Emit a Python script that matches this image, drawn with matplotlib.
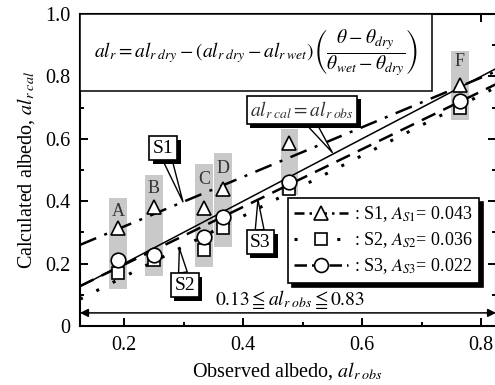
import numpy as np
import matplotlib
matplotlib.use("Agg")
import matplotlib.pyplot as plt
import matplotlib.patheffects as pe
from matplotlib.lines import Line2D
from matplotlib.patches import Rectangle
from matplotlib.ticker import MultipleLocator, FuncFormatter

plt.rcParams['font.family'] = ['Liberation Serif', 'DejaVu Serif']
plt.rcParams['mathtext.fontset'] = 'stix'

# ---- data ----
site_labels = ['A', 'B', 'C', 'D', 'E', 'F']
al_obs = [0.190, 0.250, 0.334, 0.366, 0.478, 0.764]
al_s1 = [0.314, 0.380, 0.378, 0.440, 0.586, 0.772]
al_s2 = [0.170, 0.210, 0.245, 0.314, 0.440, 0.700]
al_s3 = [0.210, 0.228, 0.285, 0.350, 0.462, 0.720]
bar_top = [0.41, 0.484, 0.52, 0.555, 0.63, 0.88]
bar_bottom = [0.12, 0.16, 0.19, 0.253, 0.42, 0.66]
label_y = [0.366, 0.44, 0.468, 0.506, None, 0.847]

# regression lines (end values at the two ends of the axis)
fit_x = [0.126, 0.825]
fit_s1 = [0.26, 0.816]
fit_s2 = [0.086, 0.765]
fit_s3 = [0.128, 0.775]

xmin, xmax = 0.126, 0.825

fig = plt.figure(figsize=(4.95, 3.85), dpi=100)
ax = fig.add_axes([80 / 495, 59 / 385, 416 / 495, 312 / 385])
ax.set_xlim(xmin, xmax)
ax.set_ylim(0, 1.0)

# gray range bars
for x, b, t in zip(al_obs, bar_bottom, bar_top):
    ax.bar(x, t - b, bottom=b, width=0.03, color='#c9c9c9', zorder=1)
for x, ly, lab in zip(al_obs, label_y, site_labels):
    if ly is not None:
        ax.text(x, ly, lab, ha='center', va='center', fontsize=13, color='#333333', zorder=2)

# lines
ax.plot([xmin, xmax], [xmin, xmax], color='k', lw=1.1, zorder=3)
ax.plot(fit_x, fit_s1, color='k', lw=1.8, ls=(0, (7, 3.5, 1.2, 3.5)), zorder=3)
ax.plot(fit_x, fit_s2, color='k', lw=2.2, ls=(0, (1, 5)), zorder=3)
ax.plot(fit_x, fit_s3, color='k', lw=1.8, ls=(0, (6, 3.5)), zorder=3)

# markers
mk = dict(mfc='white', mec='k', mew=1.2, ls='none')
ax.plot(al_obs, al_s2, marker='s', ms=9, zorder=4, **mk)
ax.plot(al_obs, al_s3, marker='o', ms=10.5, zorder=5, **mk)
ax.plot(al_obs, al_s1, marker='^', ms=10.5, zorder=6, **mk)

# equation box
ax.add_patch(Rectangle((0, 0.753), 0.846, 0.247, transform=ax.transAxes,
                       fc='white', ec='k', lw=1.1, zorder=7))
ax.text(0.423, 0.876,
        r'$al_r = al_{r\;dry} - (al_{r\;dry} - al_{r\;wet})'
        r'\left(\dfrac{\theta - \theta_{dry}}{\theta_{wet} - \theta_{dry}}\right)$',
        transform=ax.transAxes, ha='center', va='center', fontsize=14, zorder=8)

# callouts
shadow = [pe.withSimplePatchShadow(offset=(2.5, -2.5), shadow_rgbFace='k', alpha=1)]
callouts = [
    ('S1', (0.299, 0.398), (0.266, 0.569), 'k'),
    ('S2', (0.293, 0.249), (0.302, 0.131), 'k'),
    ('S3', (0.425, 0.405), (0.429, 0.268), 'k'),
    (r'$al_{r\;cal} = al_{r\;obs}$', (0.55, 0.556), (0.499, 0.692), '#333333'),
]
for txt, tip, pos, col in callouts:
    an = ax.annotate(txt, xy=tip, xytext=pos, ha='center', va='center',
                     fontsize=14, color=col, zorder=9,
                     bbox=dict(boxstyle='square,pad=0.18', fc='white', ec='k', lw=1.2),
                     arrowprops=dict(arrowstyle='wedge,tail_width=0.45', fc='white',
                                     ec='k', lw=1.0, shrinkA=0, shrinkB=0))
    an.get_bbox_patch().set_path_effects(shadow)

# range arrow
ax.annotate('', xy=(xmin, 0.042), xytext=(xmax, 0.042),
            arrowprops=dict(arrowstyle='<|-|>', color='k', lw=1.1,
                            shrinkA=0, shrinkB=0, mutation_scale=12), zorder=3)
ax.text(0.479, 0.085, r'$0.13 \leqq al_{r\;obs} \leqq 0.83$', ha='center', va='center',
        fontsize=14, zorder=3)

# legend
handles = [
    Line2D([], [], color='k', lw=1.8, ls=(0, (4, 2, 1, 2)), marker='^', ms=10, mfc='white', mec='k', mew=1.2),
    Line2D([], [], color='k', lw=2.2, ls=(0, (1, 6)), marker='s', ms=9, mfc='white', mec='k', mew=1.2),
    Line2D([], [], color='k', lw=1.8, ls=(0, (5, 2)), marker='o', ms=10, mfc='white', mec='k', mew=1.2),
]
labels = [r': S1, $A_{S1}$= 0.043', r': S2, $A_{S2}$= 0.036', r': S3, $A_{S3}$= 0.022']
leg = ax.legend(handles, labels, loc='upper left', bbox_to_anchor=(0.5, 0.41),
                borderaxespad=0, fontsize=13, handlelength=3.0, handletextpad=0.3,
                labelspacing=0.35, borderpad=0.35, fancybox=False, framealpha=1,
                edgecolor='k', shadow={'color': 'k', 'alpha': 1, 'ox': 3, 'oy': -3})
leg.get_frame().set_linewidth(1.2)
leg.set_zorder(10)

# axes styling
for s in ax.spines.values():
    s.set_linewidth(1.5)
ax.xaxis.set_major_locator(MultipleLocator(0.2))
ax.xaxis.set_minor_locator(MultipleLocator(0.1))
ax.yaxis.set_major_locator(MultipleLocator(0.2))
ax.yaxis.set_minor_locator(MultipleLocator(0.1))
ax.yaxis.set_major_formatter(FuncFormatter(lambda v, p: '0' if abs(v) < 1e-9 else f'{v:.1f}'))
ax.tick_params(which='both', direction='in', top=True, right=True, labelsize=14.5, width=1.4)
ax.tick_params(which='major', length=6, pad=7)
ax.tick_params(which='minor', length=3)

ax.set_xlabel(r'Observed albedo, $al_{r\;obs}$', fontsize=14.5, labelpad=4)
ax.set_ylabel(r'Calculated albedo, $al_{r\;cal}$', fontsize=14.5, labelpad=6)

fig.savefig('out.png', dpi=100)
